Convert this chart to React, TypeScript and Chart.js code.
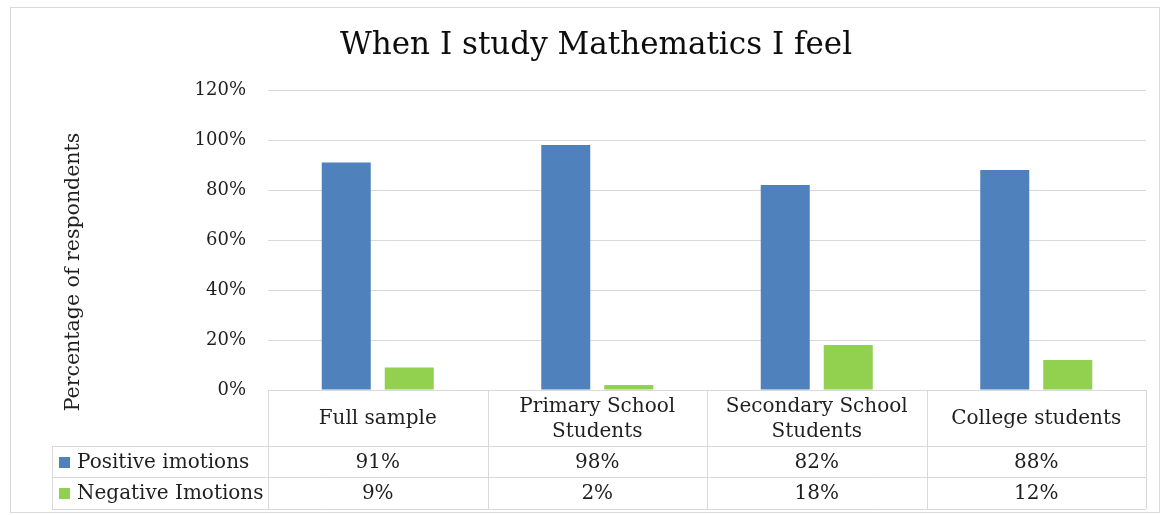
import React, { useEffect, useRef } from "react";
import { Chart, registerables } from "chart.js";

Chart.register(...registerables);

const chartTitle = "When I study Mathematics I feel";
const yAxisTitle = "Percentage of respondents";
const categories: string[][] = [
  ["Full sample"],
  ["Primary School", "Students"],
  ["Secondary School", "Students"],
  ["College students"],
];
const seriesNames = ["Positive imotions", "Negative Imotions"];
const positiveValues = [91, 98, 82, 88];
const negativeValues = [9, 2, 18, 12];
const seriesColors = ["#4F81BD", "#92D050"];
const yTicks = [0, 20, 40, 60, 80, 100, 120];

const FONT = '"DejaVu Serif", "Liberation Serif", serif';
const TEXT = "#1f1f1f";
const LINE = "#d9d9d9";

const tablePlugin = {
  id: "dataTable",
  afterDraw(chart: any) {
    const { ctx, chartArea } = chart;
    const left = chartArea.left;
    const right = chartArea.right;
    const top = chartArea.bottom;
    const colW = (right - left) / categories.length;
    const tableLeft = 52;
    const headerBottom = 446;
    const row1Bottom = 477;
    const tableBottom = 509;
    const p = (v: number) => Math.round(v) + 0.5;

    ctx.save();
    // outer border
    ctx.strokeStyle = LINE;
    ctx.lineWidth = 1;
    ctx.strokeRect(10.5, 7.5, 1149, 505);

    // title
    ctx.fillStyle = "#0d0d0d";
    ctx.font = `31px ${FONT}`;
    ctx.textAlign = "center";
    ctx.textBaseline = "middle";
    ctx.fillText(chartTitle, 596, 46);

    // y axis title
    ctx.save();
    ctx.translate(74, 272);
    ctx.rotate(-Math.PI / 2);
    ctx.font = `20.5px ${FONT}`;
    ctx.fillStyle = TEXT;
    ctx.fillText(yAxisTitle, 0, 0);
    ctx.restore();

    // table lines
    ctx.strokeStyle = LINE;
    ctx.beginPath();
    ctx.moveTo(left, p(top));
    ctx.lineTo(right, p(top));
    for (let i = 0; i <= categories.length; i++) {
      const x = p(left + i * colW);
      ctx.moveTo(x, top);
      ctx.lineTo(x, tableBottom);
    }
    ctx.moveTo(p(tableLeft), headerBottom);
    ctx.lineTo(p(tableLeft), tableBottom);
    [headerBottom, row1Bottom, tableBottom].forEach((y) => {
      ctx.moveTo(tableLeft, p(y));
      ctx.lineTo(right, p(y));
    });
    ctx.stroke();

    // header texts
    ctx.fillStyle = TEXT;
    ctx.font = `20px ${FONT}`;
    ctx.textAlign = "center";
    ctx.textBaseline = "middle";
    const headerMid = (top + headerBottom) / 2;
    const lineH = 25;
    categories.forEach((lines, i) => {
      const cx = left + (i + 0.5) * colW;
      const start = headerMid - ((lines.length - 1) * lineH) / 2;
      lines.forEach((t, j) => ctx.fillText(t, cx, start + j * lineH + 1));
    });

    // data rows
    const rows = [positiveValues, negativeValues];
    const rowMids = [(headerBottom + row1Bottom) / 2, (row1Bottom + tableBottom) / 2];
    rows.forEach((vals, r) => {
      const y = rowMids[r] + 1;
      vals.forEach((v, i) => {
        const cx = left + (i + 0.5) * colW;
        ctx.textAlign = "center";
        ctx.fillText(`${v}%`, cx, y);
      });
      ctx.fillStyle = seriesColors[r];
      ctx.fillRect(59, Math.round(rowMids[r]) - 5, 11, 11);
      ctx.fillStyle = TEXT;
      ctx.textAlign = "left";
      ctx.fillText(seriesNames[r], 77, y);
    });
    ctx.restore();
  },
};

export default function App() {
  const ref = useRef<HTMLCanvasElement>(null);
  useEffect(() => {
    if (!ref.current) return;
    const chart = new Chart(ref.current, {
      type: "bar",
      data: {
        labels: categories.map((c) => c.join(" ")),
        datasets: [
          {
            label: seriesNames[0],
            data: positiveValues,
            backgroundColor: seriesColors[0],
            categoryPercentage: 0.574,
            barPercentage: 0.778,
          },
          {
            label: seriesNames[1],
            data: negativeValues,
            backgroundColor: seriesColors[1],
            categoryPercentage: 0.574,
            barPercentage: 0.778,
          },
        ],
      },
      options: {
        responsive: false,
        animation: false,
        layout: { padding: { top: 90, bottom: 125, right: 16, left: 0 } },
        plugins: {
          legend: { display: false },
          title: { display: false },
          tooltip: { enabled: false },
        },
        scales: {
          x: { display: false },
          y: {
            min: 0,
            max: 120,
            afterFit: (s: any) => {
              s.width = 268;
            },
            afterBuildTicks: (s: any) => {
              s.ticks = yTicks.map((v) => ({ value: v }));
            },
            border: { display: false },
            grid: { color: LINE, drawTicks: false, lineWidth: 1 },
            ticks: {
              padding: 22,
              color: TEXT,
              font: { family: FONT, size: 18 },
              callback: (v: any) => `${v}%`,
            },
          },
        },
      },
      plugins: [tablePlugin],
    });
    return () => chart.destroy();
  }, []);
  return (
    <div style={{ position: "absolute", left: 0, top: 0, width: 1162, height: 515, background: "#fff" }}>
      <canvas ref={ref} width={1162} height={515} />
    </div>
  );
}
